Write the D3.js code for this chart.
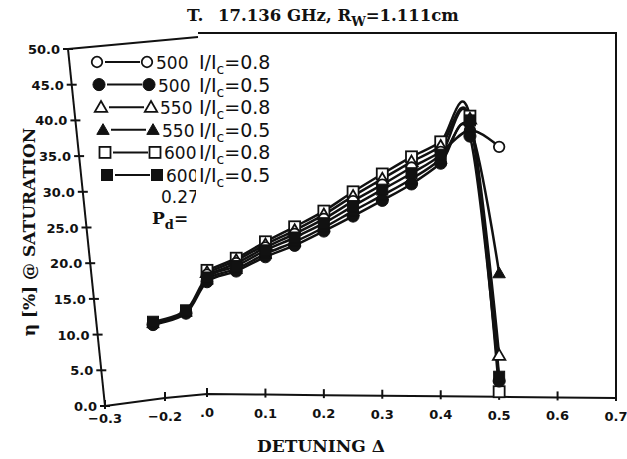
<!DOCTYPE html>
<html>
<head>
<meta charset="utf-8">
<script src="https://cdn.jsdelivr.net/npm/d3@7"></script>
<style>
  body { margin: 0; background: #fff; }
  svg { display: block; }
</style>
</head>
<body>
<div id="chart"></div>
<script>
var width = 627;
var height = 459;

// detuning values (x)
var detuning = [0, 0.05, 0.1, 0.15, 0.2, 0.25, 0.3, 0.35, 0.4, 0.45, 0.5];
var detuningLow = [-0.22, -0.1, 0, 0.05, 0.1, 0.15, 0.2, 0.25, 0.3, 0.35, 0.4, 0.45, 0.5];

// efficiency [%] per series
var eta600_08 = [19.0, 20.7, 23.0, 25.1, 27.3, 30.0, 32.5, 34.9, 37.0, 40.6, 2.0];
var eta550_08 = [18.7, 20.4, 22.6, 24.6, 26.8, 29.4, 31.8, 34.2, 36.4, 40.2, 7.1];
var eta500_08 = [18.4, 20.0, 22.2, 24.1, 26.2, 28.7, 31.0, 33.4, 35.6, 38.6, 36.3];
var eta600_05 = [11.8, 13.4, 18.0, 19.6, 21.8, 23.6, 25.6, 28.0, 30.3, 32.6, 35.2, 40.0, 4.1];
var eta550_05 = [11.6, 13.2, 17.7, 19.2, 21.3, 23.0, 25.0, 27.3, 29.5, 31.8, 34.6, 39.0, 18.6];
var eta500_05 = [11.4, 13.0, 17.4, 18.9, 20.9, 22.5, 24.5, 26.6, 28.8, 31.1, 34.0, 37.8, 3.5];

var legendNames = ["500", "500", "550", "550", "600", "600"];
var legendRatios = ["0.8", "0.5", "0.8", "0.5", "0.8", "0.5"];
var xTicks = [-0.3, -0.2, 0, 0.1, 0.2, 0.3, 0.4, 0.5, 0.6, 0.7];
var xTickLabels = ["\u22120.3", "\u22120.2", ".0", "0.1", "0.2", "0.3", "0.4", "0.5", "0.6", "0.7"];
var yTicks = [0, 5, 10, 15, 20, 25, 30, 35, 40, 45, 50];

var series = [
  {x: detuning, y: eta500_08, shape: "circle", fill: false},
  {x: detuningLow, y: eta500_05, shape: "circle", fill: true},
  {x: detuning, y: eta550_08, shape: "triangle", fill: false},
  {x: detuningLow, y: eta550_05, shape: "triangle", fill: true},
  {x: detuning, y: eta600_08, shape: "square", fill: false},
  {x: detuningLow, y: eta600_05, shape: "square", fill: true}
];

var svg = d3.select("#chart")
  .append("svg")
  .attr("width", width)
  .attr("height", height);

// the scanned axes are a bit warped on the left, so the x scale is piecewise
var xScale = d3.scaleLinear()
  .domain([-0.3, -0.2, 0, 0.7])
  .range([105, 165, 207, 616]);

var yScale = d3.scaleLinear()
  .domain([0, 50])
  .range([406, 49]);

// where the axis lines sit (slanted y axis, kinked x axis)
var yAxisX = d3.scaleLinear().domain([0, 50]).range([105, 68]);
var xAxisY = d3.scaleLinear().domain([-0.3, -0.2, 0, 0.7]).range([406, 398, 394, 398]);

var ink = "#111";

// frame
svg.append("path")
  .attr("d", d3.line()([[yAxisX(50), yScale(50)], [198, 37]]))
  .attr("fill", "none").attr("stroke", ink).attr("stroke-width", 2);
svg.append("path")
  .attr("d", d3.line()([[198, 33], [xScale(0.7), 33], [xScale(0.7), xAxisY(0.7)]]))
  .attr("fill", "none").attr("stroke", ink).attr("stroke-width", 2);

// y axis
svg.append("path")
  .attr("d", d3.line()([[yAxisX(0), yScale(0)], [yAxisX(50), yScale(50)]]))
  .attr("fill", "none").attr("stroke", ink).attr("stroke-width", 2);

var yt = svg.append("g").selectAll("g")
  .data(yTicks)
  .enter()
  .append("g");
yt.append("line")
  .attr("x1", function(d) { return yAxisX(d) - 5; })
  .attr("x2", function(d) { return yAxisX(d) + 5; })
  .attr("y1", function(d) { return yScale(d); })
  .attr("y2", function(d) { return yScale(d); })
  .attr("stroke", ink).attr("stroke-width", 2);
yt.append("text")
  .attr("x", function(d) { return yAxisX(d) - 8; })
  .attr("y", function(d) { return yScale(d) + 5; })
  .attr("text-anchor", "end")
  .attr("font-family", "DejaVu Sans")
  .attr("font-weight", "bold")
  .attr("font-size", 13)
  .attr("fill", ink)
  .text(function(d) { return d3.format(".1f")(d); });

// x axis
svg.append("path")
  .attr("d", d3.line()(xTicks.map(function(d) { return [xScale(d), xAxisY(d)]; })))
  .attr("fill", "none").attr("stroke", ink).attr("stroke-width", 2);

var xt = svg.append("g").selectAll("g")
  .data(xTicks)
  .enter()
  .append("g");
xt.append("line")
  .attr("x1", function(d) { return xScale(d); })
  .attr("x2", function(d) { return xScale(d); })
  .attr("y1", function(d) { return xAxisY(d) - 6; })
  .attr("y2", function(d) { return xAxisY(d) + 3; })
  .attr("stroke", ink).attr("stroke-width", 2);
xt.append("text")
  .attr("x", function(d) { return xScale(d); })
  .attr("y", function(d) { return Math.min(xAxisY(d) + 23, 423); })
  .attr("text-anchor", "middle")
  .attr("font-family", "DejaVu Sans")
  .attr("font-weight", "bold")
  .attr("font-size", 13)
  .attr("fill", ink)
  .text(function(d, i) { return xTickLabels[i]; });

// curves
var line = d3.line()
  .x(function(d) { return xScale(d[0]); })
  .y(function(d) { return yScale(d[1]); })
  .curve(d3.curveCatmullRom.alpha(0));

series.forEach(function(s) {
  svg.append("path")
    .datum(d3.zip(s.x, s.y))
    .attr("d", line)
    .attr("fill", "none")
    .attr("stroke", ink)
    .attr("stroke-width", 2.5);
});

function drawMarker(g, shape, fill, cx, cy, size) {
  var m;
  if (shape === "circle") {
    m = g.append("circle").attr("cx", cx).attr("cy", cy).attr("r", fill ? size * 0.55 : size * 0.48);
  } else if (shape === "square") {
    m = g.append("rect").attr("x", cx - size / 2).attr("y", cy - size / 2).attr("width", size).attr("height", size);
  } else {
    var sym = d3.symbol().type(d3.symbolTriangle).size(size * size * 0.55);
    m = g.append("path").attr("d", sym).attr("transform", "translate(" + cx + "," + (cy + 1) + ")");
  }
  m.attr("fill", fill ? ink : "#fff")
    .attr("stroke", ink)
    .attr("stroke-width", fill ? 1 : 1.8);
}

// markers: open ones first so the filled ones sit over them
var drawOrder = [4, 2, 0, 1, 3, 5];
drawOrder.forEach(function(k) {
  var s = series[k];
  var g = svg.append("g");
  s.x.forEach(function(xv, i) {
    drawMarker(g, s.shape, s.fill, xScale(xv), yScale(s.y[i]), 11);
  });
});

// the pasted label patch cuts the left texts off at x = 196
svg.append("clipPath").attr("id", "patch")
  .append("rect").attr("x", 0).attr("y", 0).attr("width", 196).attr("height", 240);

// legend
var lg = svg.append("g");
series.forEach(function(s, i) {
  var ly = 62 + i * 22.6;
  var lx = 97 + i * 2;
  lg.append("line")
    .attr("x1", lx + 8).attr("x2", lx + 43)
    .attr("y1", ly).attr("y2", ly)
    .attr("stroke", ink).attr("stroke-width", 2);
  drawMarker(lg, s.shape, s.fill, lx, ly, 11);
  drawMarker(lg, s.shape, s.fill, lx + 50, ly, 11);
  lg.append("text")
    .attr("x", lx + 59).attr("y", ly + 7)
    .attr("clip-path", "url(#patch)")
    .attr("font-family", "DejaVu Sans")
    .attr("font-size", 17)
    .attr("fill", ink)
    .text(legendNames[i]);
  var t = lg.append("text")
    .attr("x", 199).attr("y", ly + 7)
    .attr("font-family", "DejaVu Sans")
    .attr("font-size", 19)
    .attr("fill", ink);
  t.append("tspan").text("I/I");
  t.append("tspan").attr("font-size", 14).attr("dy", 5).text("c");
  t.append("tspan").attr("dy", -5).text("=" + legendRatios[i]);
});

lg.append("text")
  .attr("x", 161).attr("y", 203)
  .attr("clip-path", "url(#patch)")
  .attr("font-family", "DejaVu Sans")
  .attr("font-size", 17)
  .attr("fill", ink)
  .text("0.27");
var pd = lg.append("text")
  .attr("x", 152).attr("y", 224)
  .attr("clip-path", "url(#patch)")
  .attr("font-family", "DejaVu Serif, Liberation Serif, serif")
  .attr("font-size", 17)
  .attr("font-weight", "bold")
  .attr("fill", ink);
pd.append("tspan").text("P");
pd.append("tspan").attr("font-size", 13).attr("dy", 5).text("d");
pd.append("tspan").attr("dy", -5).text("=");

// title
svg.append("text")
  .attr("x", 187).attr("y", 21)
  .attr("font-family", "DejaVu Serif, Liberation Serif, serif")
  .attr("font-size", 17)
  .attr("font-weight", "bold")
  .attr("fill", ink)
  .text("T.");
var title = svg.append("text")
  .attr("x", 218).attr("y", 21)
  .attr("font-family", "DejaVu Serif, Liberation Serif, serif")
  .attr("font-size", 16.5)
  .attr("font-weight", "bold")
  .attr("fill", ink);
title.append("tspan").text("17.136 GHz,  R");
title.append("tspan").attr("font-size", 13).attr("dy", 5).text("W");
title.append("tspan").attr("dy", -5).text("=1.111cm");

// axis titles
svg.append("text")
  .attr("x", 321).attr("y", 452)
  .attr("text-anchor", "middle")
  .attr("font-family", "DejaVu Serif, Liberation Serif, serif")
  .attr("font-size", 17)
  .attr("font-weight", "bold")
  .attr("fill", ink)
  .text("DETUNING  \u0394");

svg.append("text")
  .attr("transform", "translate(35,232) rotate(-90)")
  .attr("text-anchor", "middle")
  .attr("font-family", "DejaVu Serif, Liberation Serif, serif")
  .attr("font-size", 17)
  .attr("font-weight", "bold")
  .attr("fill", ink)
  .text("\u03b7 [%] @ SATURATION");
</script>
</body>
</html>
